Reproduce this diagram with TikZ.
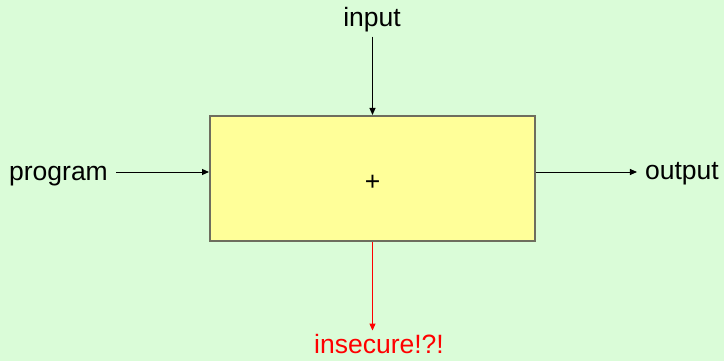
\documentclass[tikz,border=0pt]{standalone}
\usepackage{fontspec}
\setmainfont{Liberation Sans}
\usetikzlibrary{arrows.meta}
\definecolor{bggreen}{HTML}{DAFCD8}
\definecolor{boxyellow}{HTML}{FFFF99}
\definecolor{boxedge}{HTML}{6E6E5E}
\tikzset{
  lbl/.style={font=\fontsize{26.5}{31}\selectfont, text height=19pt, text depth=5.5pt, inner sep=4pt},
  flow/.style={-{Triangle[length=7pt,width=6pt]}, line width=1pt}
}
\begin{document}
\begin{tikzpicture}[x=1pt,y=-1pt]
                \fill[bggreen] (0,0) rectangle (724,361);
                \useasboundingbox (0,0) rectangle (724,361);
                % nodes
                \node[draw=boxedge, line width=2pt, fill=boxyellow, minimum width=325pt, minimum height=125pt, text height=23pt, text depth=0pt, font=\fontsize{26.5}{31}\selectfont] (box) at (372.5,178.5) {+};
                \node[lbl] (input) at (372,20.25) {input};
                \node[lbl, inner xsep=8pt] (program) at (58.5,174) {program};
                \node[lbl, inner xsep=8pt] (output) at (682,173) {output};
                \node[lbl, text=red] (insecure) at (379,347) {insecure!?!};
                % edges
                \draw[flow] (input.south -| box) -- (box.north);
                \draw[flow] (program.east |- 0,172) -- (box.west |- 0,172);
                \draw[flow] (box.east |- 0,172) -- (output.west |- 0,172);
                \draw[flow, red] (box.south) -- (insecure.north -| box);
            \end{tikzpicture}
\end{document}
